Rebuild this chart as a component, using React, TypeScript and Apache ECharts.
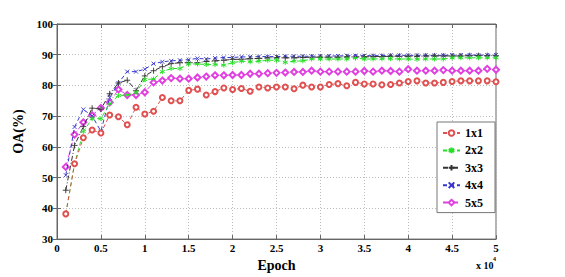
import React, { useEffect, useRef } from "react";
import * as echarts from "echarts";

const epochs: number[] = Array.from({ length: 50 }, (_, i) => (i + 1) * 1000);

const s1x1 = [38.2, 54.5, 63.0, 65.5, 64.5, 70.4, 69.8, 67.2, 72.9, 70.7, 71.6, 76.1, 75.0, 75.0, 78.4, 78.8, 76.9, 78.0, 79.2, 78.7, 79.0, 78.1, 79.5, 79.2, 79.5, 79.5, 78.9, 80.1, 79.5, 79.5, 80.3, 80.6, 79.9, 81.0, 80.5, 80.5, 80.2, 80.3, 80.8, 81.3, 81.5, 80.8, 80.8, 81.0, 81.3, 81.5, 81.5, 81.5, 81.5, 81.2];
const s2x2 = [38.2, 54.5, 65.0, 69.2, 69.2, 74.0, 76.7, 76.9, 77.7, 81.9, 82.1, 84.5, 85.5, 85.5, 87.0, 87.0, 86.8, 86.8, 86.6, 87.4, 87.9, 87.7, 87.9, 88.2, 88.2, 87.5, 87.9, 88.0, 88.6, 88.6, 88.6, 88.6, 88.6, 88.9, 88.6, 88.6, 88.7, 88.7, 88.6, 88.6, 88.5, 88.6, 88.6, 88.6, 89.0, 89.0, 89.0, 89.0, 89.0, 89.0];
const s3x3 = [45.9, 60.5, 66.6, 72.6, 72.3, 77.3, 80.8, 81.7, 78.3, 83.1, 84.8, 86.1, 87.1, 87.4, 87.4, 87.4, 87.8, 88.0, 88.2, 88.5, 88.5, 88.7, 88.8, 89.0, 89.0, 89.0, 89.0, 89.1, 89.2, 89.2, 89.2, 89.2, 89.3, 89.3, 89.3, 89.4, 89.4, 89.5, 89.5, 89.5, 89.5, 89.6, 89.6, 89.6, 89.6, 89.6, 89.7, 89.7, 89.7, 89.7];
const s4x4 = [50.8, 66.5, 72.2, 70.1, 65.1, 76.0, 80.8, 84.5, 84.5, 85.3, 87.1, 87.7, 88.0, 88.2, 88.4, 88.8, 88.6, 88.9, 89.1, 89.1, 89.3, 89.3, 89.4, 89.4, 89.4, 89.5, 89.5, 89.5, 89.5, 89.6, 89.6, 89.6, 89.7, 89.7, 89.7, 89.7, 89.7, 89.8, 89.8, 89.8, 89.8, 89.8, 89.8, 89.8, 89.9, 89.9, 89.9, 89.9, 89.9, 89.9];
const s5x5 = [53.5, 64.0, 68.0, 70.3, 72.7, 74.5, 78.7, 76.9, 76.9, 77.8, 81.0, 81.6, 82.4, 82.2, 82.2, 82.6, 82.9, 83.3, 83.3, 83.4, 83.4, 83.8, 83.8, 84.0, 84.1, 84.2, 84.4, 84.4, 84.8, 84.5, 84.5, 84.5, 84.5, 84.5, 84.7, 84.5, 84.8, 84.7, 84.5, 85.3, 84.8, 84.8, 84.8, 85.0, 84.8, 84.8, 84.8, 84.8, 85.4, 85.1];

const seriesNames = ["1x1", "2x2", "3x3", "4x4", "5x5"];
const yTicks = { min: 30, max: 100, interval: 10 };
const xTicks = { min: 0, max: 50000, interval: 5000 };

const FONT = "Liberation Serif";

const STAR = "path://M0,-5L0,5M-4.5,-2.5L4.5,2.5M-4.5,2.5L4.5,-2.5";
const PLUS = "path://M0,-5L0,5M-5,0L5,0";
const CROSS = "path://M-4,-4L4,4M-4,4L4,-4";

export default function App() {
  const ref = useRef<HTMLDivElement>(null);
  useEffect(() => {
    if (!ref.current) return;
    const chart = echarts.init(ref.current, undefined, { renderer: "svg" });
    const data = [s1x1, s2x2, s3x3, s4x4, s5x5];
    const colors = ["#e05050", "#22e022", "#333333", "#3838d0", "#e040e0"];
    const symbols = ["emptyCircle", STAR, PLUS, CROSS, "emptyDiamond"];
    const sizes = [5, 5, 6, 4, 6];
    const dashes: any[] = [[4, 3], [4, 3], [5, 2, 1, 2], [4, 3], [5, 2, 1, 2]];
    const series = seriesNames.map((name, k) => ({
      name,
      type: "line",
      data: epochs.map((x, i) => [x, data[k][i]]),
      symbol: symbols[k],
      symbolSize: sizes[k],
      showAllSymbol: true,
      lineStyle: { color: colors[k], width: 1, type: dashes[k] },
      itemStyle: { color: colors[k], borderColor: colors[k], borderWidth: 0.9 },
      emphasis: { disabled: true },
      z: 10 - k,
    }));
    chart.setOption({
      animation: false,
      backgroundColor: "#fff",
      textStyle: { fontFamily: FONT },
      grid: { left: 57, top: 24, width: 439, height: 219, show: true, borderColor: "#666", borderWidth: 1, backgroundColor: "transparent" },
      legend: {
        orient: "vertical",
        left: 437,
        top: 122,
        data: seriesNames,
        itemWidth: 17,
        itemHeight: 7,
        itemGap: 5.4,
        padding: [5, 12, 4, 5],
        backgroundColor: "#fff",
        borderColor: "#777",
        borderWidth: 1,
        textStyle: { fontFamily: FONT, fontWeight: "bold", fontSize: 12, color: "#000", lineHeight: 12 },
      },
      xAxis: [
        {
          type: "value",
          ...xTicks,
          name: "Epoch",
          nameLocation: "middle",
          nameGap: 10,
          nameTextStyle: { fontFamily: FONT, fontWeight: "bold", fontSize: 14, color: "#000" },
          axisLine: { show: true, lineStyle: { color: "#666" } },
          axisTick: { inside: true, length: 4, lineStyle: { color: "#666" } },
          axisLabel: { fontFamily: FONT, fontWeight: "bold", fontSize: 11, color: "#000", margin: 3, formatter: (v: number) => String(v / 10000) },
          splitLine: { show: true, lineStyle: { color: "#bbb", type: [1, 2] } },
        },
        {
          type: "value",
          position: "top",
          ...xTicks,
          axisLine: { show: true, lineStyle: { color: "#666" } },
          axisTick: { inside: true, length: 4, lineStyle: { color: "#666" } },
          axisLabel: { show: false },
          splitLine: { show: false },
        },
      ],
      yAxis: [
        {
          type: "value",
          ...yTicks,
          name: "OA(%)",
          nameLocation: "middle",
          nameGap: 20,
          nameTextStyle: { fontFamily: FONT, fontWeight: "bold", fontSize: 14, color: "#000" },
          axisLine: { show: true, lineStyle: { color: "#666" } },
          axisTick: { inside: true, length: 4, lineStyle: { color: "#666" } },
          axisLabel: { fontFamily: FONT, fontWeight: "bold", fontSize: 11, color: "#000", margin: 4 },
          splitLine: { show: true, lineStyle: { color: "#bbb", type: [1, 2] } },
        },
        {
          type: "value",
          position: "right",
          ...yTicks,
          axisLine: { show: true, lineStyle: { color: "#666" } },
          axisTick: { inside: true, length: 4, lineStyle: { color: "#666" } },
          axisLabel: { show: false },
          splitLine: { show: false },
        },
      ],
      graphic: [
        { type: "text", left: 476, top: 260, style: { text: "x 10", font: `bold 10px "Liberation Serif"`, fill: "#000" } },
        { type: "text", left: 493, top: 256, style: { text: "4", font: `bold 6px "Liberation Serif"`, fill: "#000" } },
      ],
      series,
    });
    return () => chart.dispose();
  }, []);
  return <div ref={ref} style={{ position: "fixed", left: 0, top: 0, width: 565, height: 277 }} />;
}
